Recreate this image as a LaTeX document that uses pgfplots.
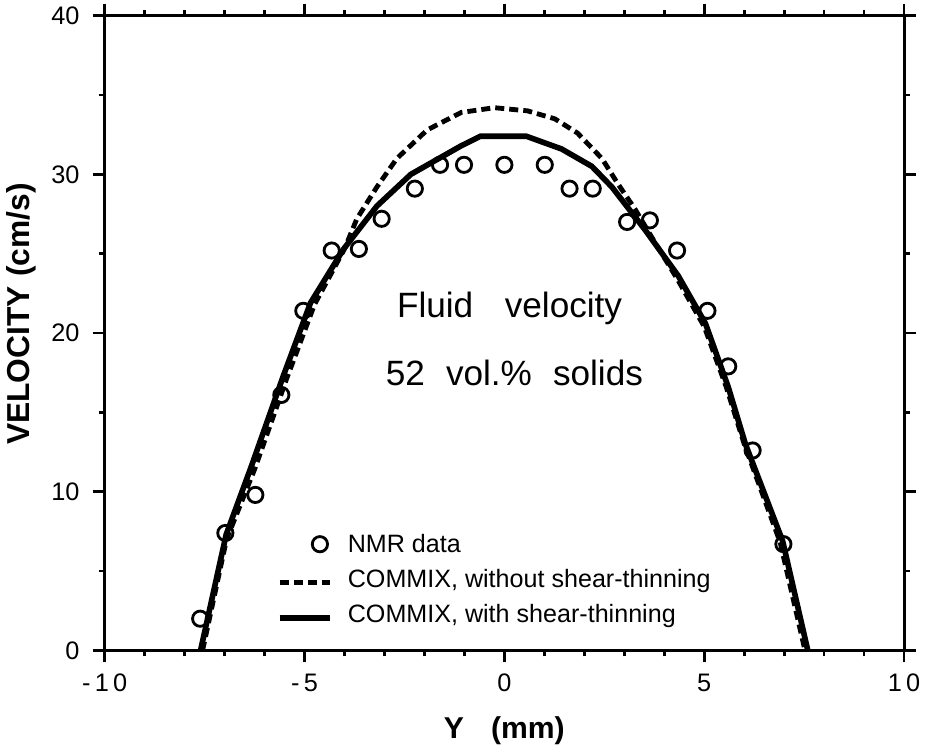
\documentclass[border=0pt]{standalone}
\usepackage{pgfplots}
\pgfplotsset{compat=1.18}
\usepackage{fontspec}
\setmainfont{Liberation Sans}

\pgfplotsset{
    lineleg/.style={legend image code/.code={\draw[##1] (0pt,0pt) -- (25pt,0pt);}},
    markleg/.style={legend image code/.code={\path[draw=none] (0pt,0pt) -- (25pt,0pt);
        \draw[mark repeat=1,mark phase=1,##1] plot coordinates {(20pt,1.5pt)};}},
}

\begin{document}
\begin{tikzpicture}
\begin{axis}[
    scale only axis,
    width=398pt, height=316pt,
    xmin=-10, xmax=10, ymin=0, ymax=40,
    axis line style={line width=1.6pt},
    tick align=outside,
    tick pos=both,
    every tick/.style={line width=1.3pt, black},
    major tick length=6pt,
    minor tick length=3pt,
    xtick={-10,-5,0,5,10},
    xticklabels={-\,1\,0,-\,5,0,5,1\,0},
    minor x tick num=4,
    ytick={0,10,20,30,40},
    yticklabels={0,10,20,30,40},
    minor y tick num=1,
    xticklabel pos=lower,
    yticklabel pos=left,
    ticklabel style={font=\fontsize{12.6}{14}\selectfont},
    xticklabel style={yshift=-2pt},
    yticklabel style={xshift=-3pt},
    xlabel={\textbf{Y\hspace{0.9em}(mm)}},
    ylabel={\textbf{VELOCITY\hspace{0.3em}(cm/s)}},
    xlabel style={at={(axis description cs:0.5,-0.127)}, anchor=center, font=\fontsize{15}{18}\selectfont},
    ylabel style={at={(axis description cs:-0.104,0.53)}, anchor=center, font=\fontsize{15.8}{18}\selectfont},
    legend style={at={(axis description cs:0.215,0.18)}, anchor=north west,
        draw=none, fill=none, inner sep=0pt,
        font=\fontsize{12.5}{15}\selectfont,
        nodes={inner sep=0pt, text height=0.75em, text depth=0.25em},
        row sep=7.6pt, column sep=7.5pt},
    legend cell align=left,
]

\addplot[only marks, mark=o, mark size=3.8pt, line width=1.4pt, black, markleg]
    coordinates {
    (-7.61, 2.0) (-6.98, 7.4) (-6.23, 9.8) (-5.58, 16.1) (-5.03, 21.4)
    (-4.32, 25.2) (-3.64, 25.3) (-3.07, 27.2) (-2.24, 29.1) (-1.61, 30.6)
    (-1.01, 30.6) (0.0, 30.6) (1.01, 30.6) (1.63, 29.1) (2.21, 29.1)
    (3.07, 27.0) (3.64, 27.1) (4.32, 25.2) (5.08, 21.4) (5.60, 17.9)
    (6.21, 12.6) (6.98, 6.7) (7.61, -0.25)
    };

\addplot[black, line width=2.4pt, dash pattern=on 4.5pt off 2.5pt, lineleg]
    coordinates {
    (-7.55,0) (-6.95,7.0) (-6.25,11.4) (-5.45,17.1) (-4.75,21.8) (-4.0,25.3)
    (-3.69,27.2) (-3.19,29.2) (-2.69,31.0) (-1.93,32.8) (-1.08,33.9)
    (-0.25,34.2) (0.58,34.0) (1.26,33.5) (1.83,32.6) (2.44,31.0) (2.84,29.4)
    (3.27,27.8) (3.6,26.4) (4.35,23.3) (5.0,20.4) (5.55,16.6) (6.0,13.0)
    (6.9,6.8) (7.52,0)
    };

\addplot[black, line width=2.8pt, lineleg]
    coordinates {
    (-7.6,0) (-6.96,7.3) (-6.33,11.6) (-5.53,17.3) (-4.85,21.9) (-4.02,25.3)
    (-3.19,28.0) (-2.34,30.0) (-1.08,31.8) (-0.6,32.4) (0.55,32.4) (1.43,31.6)
    (2.19,30.5) (2.69,29.2) (3.52,26.5) (4.35,23.6) (5.03,20.6) (5.60,16.6)
    (6.03,13.0) (6.96,6.9) (7.59,0)
    };

\legend{NMR data, {COMMIX, without shear-thinning}, {COMMIX, with shear-thinning}}

\node[anchor=base, font=\fontsize{17.5}{20}\selectfont] at (axis cs:0.13,21.0) {Fluid\hspace{0.9em}velocity};
\node[anchor=base, font=\fontsize{17.5}{20}\selectfont] at (axis cs:0.25,16.7) {52\hspace{0.6em}vol.\%\hspace{0.6em}solids};

\end{axis}
\end{tikzpicture}
\end{document}
